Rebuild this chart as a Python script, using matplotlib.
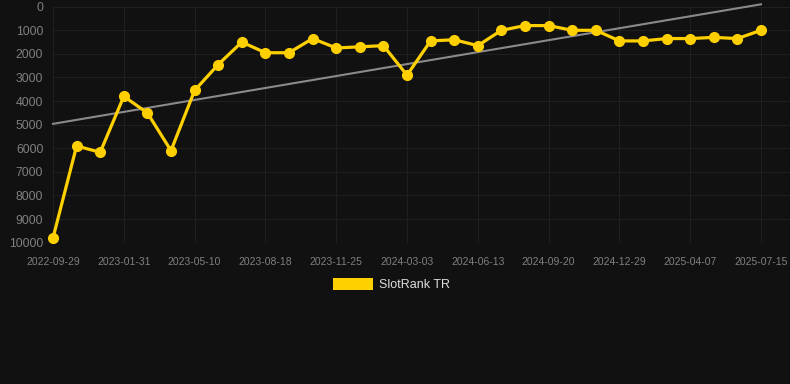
import matplotlib
matplotlib.use("Agg")
import matplotlib.pyplot as plt
import numpy as np
from matplotlib.patches import Rectangle

dates = ["2022-09-29", "2022-11-09", "2022-12-20", "2023-01-31", "2023-03-04",
         "2023-04-07", "2023-05-10", "2023-06-12", "2023-07-15", "2023-08-18",
         "2023-09-20", "2023-10-23", "2023-11-25", "2023-12-28", "2024-01-30",
         "2024-03-03", "2024-04-06", "2024-05-10", "2024-06-13", "2024-07-16",
         "2024-08-18", "2024-09-20", "2024-10-23", "2024-11-25", "2024-12-29",
         "2025-01-31", "2025-03-05", "2025-04-07", "2025-05-10", "2025-06-12",
         "2025-07-15"]
rank = [9800, 5900, 6170, 3800, 4500, 6100, 3550, 2450, 1500, 1950,
        1950, 1350, 1750, 1700, 1650, 2900, 1450, 1400, 1650, 1000,
        800, 800, 1000, 1000, 1450, 1450, 1350, 1350, 1300, 1350, 1000]
y_ticks = [0, 1000, 2000, 3000, 4000, 5000, 6000, 7000, 8000, 9000, 10000]
series_name = "SlotRank TR"

plt.rcParams["font.family"] = ["Liberation Sans", "DejaVu Sans"]

BG = "#111111"
YEL = "#FFD000"

fig = plt.figure(figsize=(7.9, 3.84), dpi=100, facecolor=BG)
ax = fig.add_axes([53/790, 1 - 242.7/384, 1 - 53/790, (242.7 - 6.7)/384])
ax.set_facecolor(BG)

x = np.arange(len(rank))
coef = np.polyfit(x, rank, 1)
trend = np.polyval(coef, x[[0, -1]])
ax.plot(x[[0, -1]], trend, color="#8a8a8a", lw=1.5, clip_on=False, zorder=2)
ax.plot(x, rank, color=YEL, lw=2.3, marker="o", ms=7, mfc=YEL, mec=YEL,
        clip_on=False, zorder=3)

ax.set_ylim(10000, 0)
ax.set_xlim(0, 30 + 29/23.6)
ax.set_yticks(y_ticks)
ax.set_yticklabels([str(v) for v in y_ticks])
ax.set_xticks(x[::3])
ax.set_xticklabels([dates[i] for i in x[::3]])
ax.tick_params(axis="y", colors="#808080", labelsize=8.8, length=0, pad=7)
ax.tick_params(axis="x", colors="#808080", labelsize=7.5, length=0, pad=10)
ax.grid(True, color="#1f1f1f", lw=0.8)
ax.set_axisbelow(True)
for s in ax.spines.values():
    s.set_visible(False)
ax.axhline(10000, color="#2a2a2a", lw=0.8, zorder=1)

fig.patches.append(Rectangle((333/790, 1 - 290/384), 40/790, 12/384,
                             transform=fig.transFigure, facecolor=YEL,
                             edgecolor="none"))
fig.text(379/790, 1 - 284.5/384, series_name, color="#dddddd", fontsize=9,
         va="center", ha="left")

fig.savefig("out.png", dpi=100, facecolor=BG)
